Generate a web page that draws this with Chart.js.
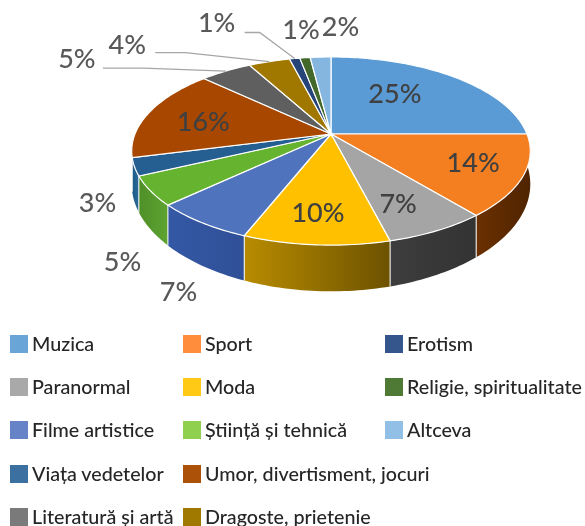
<!DOCTYPE html>
<html>
<head>
<meta charset="utf-8">
<script src="https://cdn.jsdelivr.net/npm/chart.js@4"></script>
<style>
    html, body { margin: 0; padding: 0; background: #fff; }
    #wrap { position: relative; width: 585px; height: 526px; overflow: hidden; filter: blur(0.4px); }
    #pie { position: absolute; left: 0; top: 0; }
    .swatch { position: absolute; width: 18px; height: 18px; }
    .item { position: absolute; font: 500 19.7px Lato, sans-serif; color: #262626; white-space: nowrap; line-height: 24px; }
</style>
</head>
<body>
<div id="wrap"><canvas id="pie" width="585" height="526"></canvas></div>
<script>
const categories = ['Muzica', 'Sport', 'Paranormal', 'Moda', 'Filme artistice', 'Știință și tehnică', 'Viața vedetelor',
    'Umor, divertisment, jocuri', 'Literatură și artă', 'Dragoste, prietenie', 'Erotism', 'Religie, spiritualitate', 'Altceva'];
const percents = [25, 14, 7, 10, 7, 5, 3, 16, 5, 4, 1, 1, 2];

const topColors = ['#5b9bd5', '#f47f20', '#a5a5a5', '#ffc000', '#4f74bd', '#65b32e', '#255e91',
    '#a84800', '#5f5f5f', '#a07800', '#264478', '#43682b', '#85b6e0'];
const sideFrom = ['#5b9bd5', '#6b3000', '#3d3d3d', '#b88c00', '#3558a5', '#4f8f28', '#1f5a88',
    '#a84800', '#5f5f5f', '#a07800', '#264478', '#43682b', '#85b6e0'];
const sideTo = ['#5b9bd5', '#4f2400', '#333333', '#6d5200', '#2f5097', '#5da432', '#2a6a9a',
    '#a84800', '#5f5f5f', '#a07800', '#264478', '#43682b', '#85b6e0'];
const legendColors = ['#6aa5d8', '#ff8d3c', '#a9a9a9', '#ffc915', '#6583c6', '#8fd14f', '#3b70a0',
    '#ab5208', '#7a7a7a', '#a07a00', '#35568c', '#4e7a36', '#91bfe6'];

// legend reads row by row, not in slice order
const legendRows = [[0, 1, 10], [2, 3, 11], [4, 5, 12], [6, 7], [8, 9]];
const legendSwatchX = [10, 183, 385];
const legendTextX = [32, 205, 407];
const legendRowY = [344, 387, 430, 474, 517];

// label position relative to the point on the rim at the middle of the slice
const labelDx = [-59, -50, -39, 2, -23, -28, -37, 54, -149, -142, -78, -4, 20];
const labelDy = [17, -13, -26, -32, 70, 71, 36, 10, -12, -16, -35, -27, -30];
const insideLabels = [0, 1, 2, 3, 7];

// slices with a leader line: index, offset from the label, length of the flat part
const leaderSlices = [8, 9, 10];
const leaderFromX = [26, 28, 28];
const leaderFromY = [9, 7, 9];
const leaderFlat = [40, 30, 15];

// perspective of the disc, fitted on the reference
const cx = 331, cy = 134, radiusX = 196, radiusY = 91, tilt = 0.181, depth = 31;
const sideEnd = 166 * Math.PI / 180;

function project(angle) {
    const w = 1 - tilt * Math.sin(angle);
    return {
        x: cx + radiusX * Math.cos(angle) / w,
        y: cy + radiusY * Math.sin(angle) / w,
        drop: depth / (w * w)
    };
}

function rimPoints(start, end) {
    const points = [];
    const steps = Math.max(2, Math.ceil((end - start) / 0.02));
    for (let i = 0; i <= steps; i++) {
        points.push(project(start + (end - start) * i / steps));
    }
    return points;
}

const pie3d = {
    id: 'pie3d',
    beforeDatasetsDraw(chart) {
        const ctx = chart.ctx;
        const arcs = chart.getDatasetMeta(0).data;

        // sides first, the top faces go over them
        arcs.forEach((arc, i) => {
            const start = Math.max(arc.startAngle, 0);
            const end = Math.min(arc.endAngle, sideEnd);
            if (end <= start) return;
            const rim = rimPoints(start, end);
            const xs = rim.map(p => p.x);
            const grad = ctx.createLinearGradient(Math.min(...xs), 0, Math.max(...xs), 0);
            grad.addColorStop(0, sideFrom[i]);
            grad.addColorStop(1, sideTo[i]);
            ctx.beginPath();
            rim.forEach((p, k) => k ? ctx.lineTo(p.x, p.y) : ctx.moveTo(p.x, p.y));
            rim.slice().reverse().forEach(p => ctx.lineTo(p.x, p.y + p.drop));
            ctx.closePath();
            ctx.fillStyle = grad;
            ctx.fill();
            ctx.strokeStyle = '#ffffff';
            ctx.lineWidth = 1;
            ctx.beginPath();
            ctx.moveTo(rim[0].x, rim[0].y);
            ctx.lineTo(rim[0].x, rim[0].y + rim[0].drop);
            ctx.stroke();
        });

        arcs.forEach((arc, i) => {
            const rim = rimPoints(arc.startAngle, arc.endAngle);
            ctx.beginPath();
            ctx.moveTo(cx, cy);
            rim.forEach(p => ctx.lineTo(p.x, p.y));
            ctx.closePath();
            ctx.fillStyle = topColors[i];
            ctx.fill();
            ctx.strokeStyle = '#ffffff';
            ctx.lineWidth = 1.2;
            ctx.stroke();
        });

        // leader lines
        ctx.strokeStyle = '#a6a6a6';
        ctx.lineWidth = 1.3;
        leaderSlices.forEach((i, k) => {
            const p = labelAnchor(arcs[i]);
            const x0 = p.x + labelDx[i] + leaderFromX[k];
            const y0 = p.y + labelDy[i] + leaderFromY[k];
            ctx.beginPath();
            ctx.moveTo(x0, y0);
            ctx.lineTo(x0 + leaderFlat[k], y0);
            ctx.lineTo(p.x, p.y);
            ctx.stroke();
        });

        return false;
    },
    afterDraw(chart) {
        const ctx = chart.ctx;
        ctx.font = '500 27px Lato, sans-serif';
        ctx.textAlign = 'center';
        ctx.textBaseline = 'middle';
        chart.getDatasetMeta(0).data.forEach((arc, i) => {
            const p = labelAnchor(arc);
            ctx.fillStyle = insideLabels.includes(i) ? '#404040' : '#595959';
            ctx.fillText(percents[i] + '%', p.x + labelDx[i], p.y + labelDy[i]);
        });
    }
};

function labelAnchor(arc) {
    return project((arc.startAngle + arc.endAngle) / 2);
}

new Chart(document.getElementById('pie').getContext('2d'), {
    type: 'pie',
    data: {
        labels: categories,
        datasets: [{ data: percents, backgroundColor: topColors }]
    },
    options: {
        responsive: false,
        animation: false,
        plugins: {
            legend: { display: false },
            tooltip: { enabled: false }
        }
    },
    plugins: [pie3d]
});

const wrap = document.getElementById('wrap');
legendRows.forEach((row, r) => {
    row.forEach((slice, c) => {
        const swatch = document.createElement('div');
        swatch.className = 'swatch';
        swatch.style.left = legendSwatchX[c] + 'px';
        swatch.style.top = (legendRowY[r] - 9) + 'px';
        swatch.style.background = legendColors[slice];
        wrap.appendChild(swatch);

        const item = document.createElement('div');
        item.className = 'item';
        item.style.left = legendTextX[c] + 'px';
        item.style.top = (legendRowY[r] - 12) + 'px';
        item.textContent = categories[slice];
        wrap.appendChild(item);
    });
});
</script>
</body>
</html>
